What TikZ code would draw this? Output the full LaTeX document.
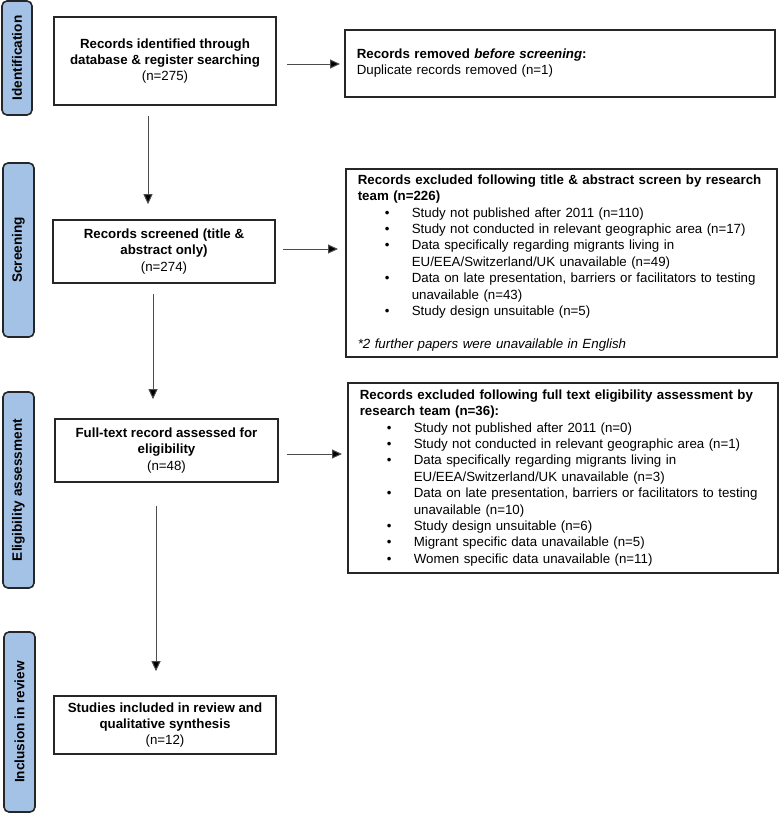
\documentclass[tikz,border=0pt]{standalone}
\usepackage{fontspec}
\setmainfont{Liberation Sans}
\usetikzlibrary{arrows.meta,calc}
\definecolor{tabblue}{HTML}{A4C2E6}
\definecolor{edge}{HTML}{262626}
\newcommand\bitem{\makebox[54pt][l]{\hspace*{27pt}\textbullet}}
\newcommand\cont{\hspace*{54pt}}
\begin{document}
\begin{tikzpicture}[x=1pt,y=-1pt,
  every node/.style={font=\fontsize{13.3}{16.4}\selectfont},
  tabbox/.style={draw=edge, line width=1.6pt, fill=tabblue, rounded corners=5pt, rotate=90, inner sep=0pt, font=\fontsize{13.6}{16.4}\selectfont\bfseries},
  mainbox/.style={draw=edge, line width=1.6pt, align=center, inner sep=0pt},
  exbox/.style={draw=edge, line width=1.6pt, align=left, inner xsep=12pt, inner ysep=0pt, anchor=north west},
  arr/.style={draw=black!70, line width=1pt, -{Triangle[length=10pt,width=9pt,fill=black]}}
]
\useasboundingbox (0,0) rectangle (779,814);

% phase tabs
\node[tabbox, minimum width=114pt, minimum height=30pt] (t1) at (17,58) {Identification};
\node[tabbox, minimum width=174pt, minimum height=31pt] (t2) at (18.5,250) {Screening};
\node[tabbox, minimum width=196pt, minimum height=31pt] (t3) at (18.5,490) {Eligibility assessment};
\node[tabbox, minimum width=180pt, minimum height=31pt] (t4) at (19.5,722) {Inclusion in review};

% main boxes
\node[mainbox, minimum width=222pt, minimum height=88pt] (b1) at (165,61)
  {\textbf{Records identified through}\\\textbf{database \& register searching}\\(n=275)};
\node[mainbox, minimum width=222pt, minimum height=63pt] (b2) at (164,251.5)
  {\textbf{Records screened (title \&}\\\textbf{abstract only)}\\(n=274)};
\node[mainbox, minimum width=223pt, minimum height=63pt] (b3) at (166.5,450.5)
  {\textbf{Full-text record assessed for}\\\textbf{eligibility}\\(n=48)};
\node[mainbox, minimum width=222pt, minimum height=58pt] (b4) at (165,725)
  {\textbf{Studies included in review and}\\\textbf{qualitative synthesis}\\(n=12)};

% side boxes
\node[exbox, text width=406pt, minimum height=67pt] (rem) at (344,29)
  {\textbf{Records removed \textit{before screening}:}\\Duplicate records removed (n=1)};

\node[exbox, text width=407pt, minimum height=188pt] (ex1) at (345,168)
  {\textbf{Records excluded following title \& abstract screen by research}\\
   \textbf{team (n=226)}\\
   \bitem Study not published after 2011 (n=110)\\
   \bitem Study not conducted in relevant geographic area (n=17)\\
   \bitem Data specifically regarding migrants living in\\
   \cont EU/EEA/Switzerland/UK unavailable (n=49)\\
   \bitem Data on late presentation, barriers or facilitators to testing\\
   \cont unavailable (n=43)\\
   \bitem Study design unsuitable (n=5)\\[16.4pt]
   \textit{*2 further papers were unavailable in English}};

\node[exbox, text width=406pt, minimum height=190pt] (ex2) at (347,382)
  {\textbf{Records excluded following full text eligibility assessment by}\\
   \textbf{research team (n=36):}\\
   \bitem Study not published after 2011 (n=0)\\
   \bitem Study not conducted in relevant geographic area (n=1)\\
   \bitem Data specifically regarding migrants living in\\
   \cont EU/EEA/Switzerland/UK unavailable (n=3)\\
   \bitem Data on late presentation, barriers or facilitators to testing\\
   \cont unavailable (n=10)\\
   \bitem Study design unsuitable (n=6)\\
   \bitem Migrant specific data unavailable (n=5)\\
   \bitem Women specific data unavailable (n=11)};

% connectors
\draw[arr] ($(b1.east)+(10,3)$) -- ($(b1.east -| rem.west)+(-4,3)$);
\draw[arr] ($(b1.south)+(-17,10)$) -- ($(b1.south |- b2.north)+(-17,-15)$);
\draw[arr] ($(b2.east)+(7,-2.5)$) -- ($(b2.east -| ex1.west)+(-7,-2.5)$);
\draw[arr] ($(b2.south)+(-11,10)$) -- ($(b2.south |- b3.north)+(-11,-19)$);
\draw[arr] ($(b3.east)+(8,3.5)$) -- ($(b3.east -| ex2.west)+(-5,3.5)$);
\draw[arr] ($(b3.south)+(-10.5,23)$) -- ($(b3.south |- b4.north)+(-10.5,-24)$);
\end{tikzpicture}
\end{document}
